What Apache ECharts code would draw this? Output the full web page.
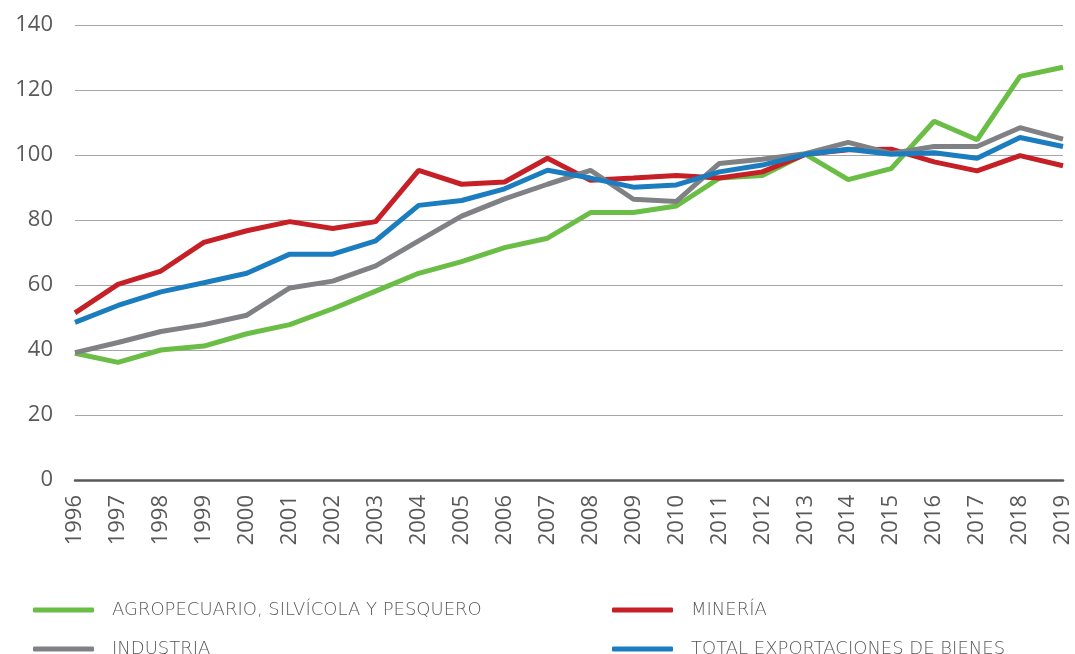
<!DOCTYPE html>
<html>
<head>
<meta charset="utf-8">
<script src="https://cdn.jsdelivr.net/npm/echarts@6/dist/echarts.min.js"></script>
<style>
html, body { margin: 0; padding: 0; background: #fff; }
#chart { width: 1075px; height: 654px; }
</style>
</head>
<body>
<div id="chart"></div>
<script>
var years = ['1996', '1997', '1998', '1999', '2000', '2001', '2002', '2003', '2004', '2005', '2006', '2007',
	'2008', '2009', '2010', '2011', '2012', '2013', '2014', '2015', '2016', '2017', '2018', '2019'];

var agro = [39.0, 36.2, 40.0, 41.2, 45.0, 47.8, 52.7, 58.1, 63.6, 67.2, 71.5, 74.4,
	82.3, 82.3, 84.3, 92.9, 93.7, 100.3, 92.4, 95.8, 110.4, 104.7, 124.2, 127.0];
var mineria = [51.4, 60.2, 64.3, 73.1, 76.7, 79.5, 77.4, 79.5, 95.3, 91.0, 91.7, 99.0,
	92.2, 92.9, 93.7, 92.9, 94.8, 100.2, 101.6, 101.8, 97.9, 95.1, 99.8, 96.7];
var industria = [39.2, 42.3, 45.7, 47.8, 50.7, 59.1, 61.2, 65.9, 73.6, 81.2, 86.5, 91.0,
	95.3, 86.4, 85.7, 97.4, 98.7, 100.4, 103.9, 100.5, 102.6, 102.6, 108.4, 104.9];
var total = [48.5, 53.7, 57.9, 60.7, 63.6, 69.5, 69.5, 73.6, 84.5, 86.0, 89.6, 95.3,
	92.9, 90.1, 90.8, 94.8, 96.9, 100.2, 101.8, 100.2, 100.7, 99.0, 105.4, 102.6];

var names = ['AGROPECUARIO, SILVÍCOLA Y PESQUERO', 'MINERÍA', 'INDUSTRIA', 'TOTAL EXPORTACIONES DE BIENES'];
var colors = ['#6abd45', '#c61f26', '#808184', '#1b7dbf'];

var chart = echarts.init(document.getElementById('chart'));

var textColor = '#595959';
var fontName = 'Open Sans';

function makeSeries(i, data) {
	return {
		name: names[i],
		type: 'line',
		data: data,
		symbol: 'none',
		color: colors[i],
		lineStyle: { width: 5, color: colors[i] }
	};
}

// una leyenda por item, para ubicar cada una como en el original
function makeLegend(i, left, top) {
	return {
		data: [names[i]],
		left: left,
		top: top,
		padding: 0,
		itemWidth: 61,
		itemHeight: 5,
		icon: 'roundRect',
		textStyle: {
			fontFamily: 'DejaVu Sans',
			fontSize: 18,
			fontWeight: 200,
			color: textColor,
			padding: [0, 0, 0, 13]
		}
	};
}

var option = {
	animation: false,
	grid: {
		left: 75,
		right: 12,
		top: 25,
		bottom: 174
	},
	legend: [
		makeLegend(0, 33, 601),
		makeLegend(1, 612, 601),
		makeLegend(2, 33, 640),
		makeLegend(3, 612, 640)
	],
	xAxis: {
		type: 'category',
		data: years,
		boundaryGap: false,
		axisLine: { lineStyle: { color: '#595959', width: 2.5 } },
		axisTick: { show: false },
		axisLabel: {
			rotate: 90,
			margin: 15,
			fontFamily: fontName,
			fontSize: 22,
			color: textColor,
			interval: 0
		}
	},
	yAxis: {
		type: 'value',
		min: 0,
		max: 140,
		interval: 20,
		axisLine: { show: false },
		axisTick: { show: false },
		axisLabel: {
			margin: 22,
			fontFamily: fontName,
			fontSize: 22,
			color: textColor
		},
		splitLine: { lineStyle: { color: '#a6a6a6', width: 1 } }
	},
	series: [
		makeSeries(0, agro),
		makeSeries(1, mineria),
		makeSeries(2, industria),
		makeSeries(3, total)
	]
};

chart.setOption(option);
</script>
</body>
</html>
